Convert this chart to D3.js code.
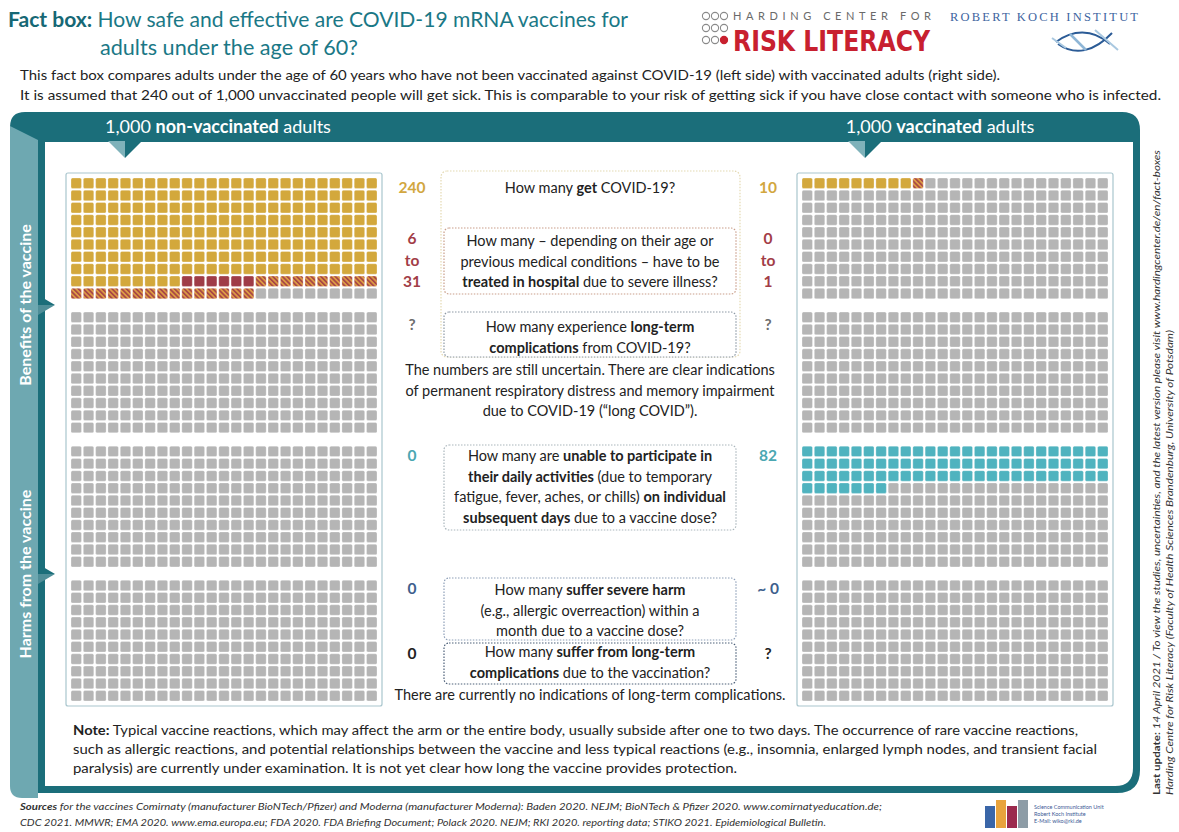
<!DOCTYPE html>
<html>
<head>
<meta charset="utf-8">
<script src="https://cdn.jsdelivr.net/npm/d3@7"></script>
<style>
body { margin: 0; background: #fff; }
text { font-family: Lato, "Open Sans", sans-serif; }
</style>
</head>
<body>
<svg width="1179" height="832"></svg>
<script>
// ---- data ----
var groups = ["non-vaccinated", "vaccinated"];
var gotCovid = [240, 10];
var hospitalMin = [6, 0];
var hospitalMax = [31, 1];
var longTerm = [0, 0];        // unknown, drawn as grey
var dailyLimited = [0, 82];
var severeHarm = [0, 0];
var blocks = ["get COVID-19", "long-term complications", "daily activities", "severe harm"];

var leftValues = ["240", ["6", "to", "31"], "?", "0", "0", "0"];
var rightValues = ["10", ["0", "to", "1"], "?", "82", "~ 0", "?"];

var questions = [
    ["How many **get** COVID-19?"],
    ["How many – depending on their age or", "previous medical conditions – have to be", "**treated in hospital** due to severe illness?"],
    ["How many experience **long-term**", "**complications** from COVID-19?"],
    ["How many are **unable to participate in**", "**their daily activities** (due to temporary", "fatigue, fever, aches, or chills) **on individual**", "**subsequent days** due to a vaccine dose?"],
    ["How many **suffer severe harm**", "(e.g., allergic overreaction) within a", "month due to a vaccine dose?"],
    ["How many **suffer from long-term**", "**complications** due to the vaccination?"]
];
var longCovidNote = ["The numbers are still uncertain. There are clear indications",
    "of permanent respiratory distress and memory impairment",
    "due to COVID-19 (“long COVID”)."];
var noComplications = "There are currently no indications of long-term complications.";

// ---- layout / styles ----
var teal = "#1b6e7a", lightTeal = "#6ea8b1";
var colors = { sick: "#d3a83c", hosp: "#9f3c47", hatch: "url(#hatch)", react: "#4fb3bf", none: "#b5b5b5" };
var valueColors = ["#d2a73f", "#a23d47", "#6d6d6d", "#4ba7b2", "#3e5f8d", "#222"];
var valueY = [193, 244, 330, 461, 594, 659];
var qBaseline = [193, 246, 332, 461, 595, 657];
var qBoxes = [null, [228, 294, "#c99e8a"], [312, 357, "#8d99a5"], [445, 530, "#aab6bc"], [578, 640, "#8e9fb8"], [643, 684, "#4d6079"]];

var svg = d3.select("svg");
var defs = svg.append("defs");
var pat = defs.append("pattern").attr("id", "hatch").attr("width", 3.4).attr("height", 3.4)
    .attr("patternUnits", "userSpaceOnUse").attr("patternTransform", "rotate(-45)");
pat.append("rect").attr("width", 3.4).attr("height", 3.4).attr("fill", "#dc9a44");
pat.append("line").attr("x1", 0.8).attr("x2", 0.8).attr("y1", 0).attr("y2", 3.4)
    .attr("stroke", "#a23c46").attr("stroke-width", 1.5);

// rich text with **bold** parts
function rich(sel, x, y, str, size, anchor, fill) {
    var t = sel.append("text").attr("x", x).attr("y", y).attr("font-size", size)
        .attr("text-anchor", anchor || "start").attr("fill", fill || "#222");
    str.split("**").forEach(function (s, i) {
        if (s.length) t.append("tspan").attr("font-weight", i % 2 ? 700 : 400).text(s);
    });
    return t;
}

// ---- title ----
var title = svg.append("text").attr("x", 8).attr("y", 27).attr("font-size", 21).attr("fill", "#1a7886")
    .attr("textLength", 620).attr("lengthAdjust", "spacingAndGlyphs");
title.append("tspan").attr("font-weight", 700).attr("fill", "#166875").text("Fact box: ");
title.append("tspan").text("How safe and effective are COVID-19 mRNA vaccines for");
svg.append("text").attr("x", 100).attr("y", 55).attr("font-size", 21).attr("fill", "#1a7886")
    .attr("textLength", 258).attr("lengthAdjust", "spacingAndGlyphs").text("adults under the age of 60?");

svg.append("text").attr("x", 20).attr("y", 80).attr("font-size", 13.5).attr("fill", "#222")
    .attr("textLength", 980).attr("lengthAdjust", "spacingAndGlyphs")
    .text("This fact box compares adults under the age of 60 years who have not been vaccinated against COVID-19 (left side) with vaccinated adults (right side).");
svg.append("text").attr("x", 20).attr("y", 100).attr("font-size", 13.5).attr("fill", "#222")
    .attr("textLength", 1141).attr("lengthAdjust", "spacingAndGlyphs")
    .text("It is assumed that 240 out of 1,000 unvaccinated people will get sick. This is comparable to your risk of getting sick if you have close contact with someone who is infected.");

// ---- logos ----
var logo = svg.append("g");
d3.range(9).forEach(function (i) {
    var cx = 706 + (i % 3) * 9, cy = 16 + Math.floor(i / 3) * 12;
    logo.append("circle").attr("cx", cx).attr("cy", cy).attr("r", 3.6)
        .attr("fill", i === 8 ? "#c8202f" : "none").attr("stroke", i === 8 ? "#c8202f" : "#8a8a8a").attr("stroke-width", 1.1);
});
logo.append("text").attr("x", 733).attr("y", 20).attr("font-size", 11).attr("fill", "#6a6a6a")
    .attr("textLength", 198).attr("lengthAdjust", "spacing").text("HARDING CENTER FOR");
logo.append("text").attr("x", 733).attr("y", 51).attr("font-size", 28).attr("font-weight", 700)
    .attr("fill", "#c8202f").style("font-family", "'Liberation Sans Narrow', 'DejaVu Sans Condensed', sans-serif")
    .attr("textLength", 197).attr("lengthAdjust", "spacingAndGlyphs").text("RISK LITERACY");
logo.append("text").attr("x", 950).attr("y", 21).attr("font-size", 12.5).attr("fill", "#3d64a0")
    .style("font-family", "'Liberation Serif', serif")
    .attr("textLength", 188).attr("lengthAdjust", "spacing").text("ROBERT KOCH INSTITUT");
[["M1056,42 C1072,30 1092,28 1110,44", "#2b5b96", 2], ["M1058,44 C1075,56 1094,52 1112,33", "#2b5b96", 2],
 ["M1070,34 L1086,50", "#8fb6d6", 2.5], ["M1095,30 L1118,50", "#a9c8e0", 2], ["M1052,38 L1066,48", "#a9c8e0", 2]]
    .forEach(function (p) {
        logo.append("path").attr("d", p[0]).attr("fill", "none").attr("stroke", p[1]).attr("stroke-width", p[2]);
    });

// ---- frame ----
svg.append("path").attr("fill", teal)
    .attr("d", "M10,127 Q10,112 25,112 L1122,112 Q1140,112 1140,130 L1140,770 Q1140,793 1117,793 L38,793 L38,142 L10,142 Z");
svg.append("path").attr("fill", "#fff")
    .attr("d", "M45,142 L1133,142 L1133,768 Q1133,786 1115,786 L45,786 Z");
svg.append("path").attr("fill", lightTeal)
    .attr("d", "M10,126 L38,140 L38,798 L22,798 Q10,798 10,786 Z");

// header pointers
[125, 865].forEach(function (cx) {
    svg.append("path").attr("fill", "#7fb2ba").attr("d", "M" + (cx - 17) + ",141 L" + cx + ",141 L" + cx + ",158 Z");
    svg.append("path").attr("fill", teal).attr("d", "M" + cx + ",141 L" + (cx + 17) + ",141 L" + cx + ",158 Z");
});
rich(svg, 218, 133, "1,000 **non-vaccinated** adults", 18, "middle", "#fff");
rich(svg, 940, 133, "1,000 **vaccinated** adults", 18, "middle", "#fff");

// side pointers + labels
[[305, "Benefits of the vaccine"], [574, "Harms from the vaccine"]].forEach(function (d) {
    svg.append("path").attr("fill", teal).attr("d", "M38," + (d[0] - 10) + " L55," + d[0] + " L38," + d[0] + " Z");
    svg.append("path").attr("fill", "#4f8e98").attr("d", "M38," + d[0] + " L55," + d[0] + " L38," + (d[0] + 10) + " Z");
    svg.append("text").attr("transform", "translate(31," + d[0] + ") rotate(-90)")
        .attr("text-anchor", "middle").attr("font-size", 16).attr("font-weight", 700)
        .attr("fill", "#fff").text(d[1]);
});

// ---- icon grids ----
var side = d3.scaleOrdinal().domain(groups).range([71, 802]);
var col = d3.scaleBand().domain(d3.range(25)).range([0, 306]).paddingInner(0.15);
var block = d3.scaleBand().domain(d3.range(blocks.length)).range([178, 701]).paddingInner(0.1);
var row = d3.scaleBand().domain(d3.range(10)).range([0, block.bandwidth()]).paddingInner(0.15);

function blockCells(g, b) {
    var segs;
    if (b === 0) segs = [["sick", gotCovid[g] - hospitalMax[g]], ["hosp", hospitalMin[g]], ["hatch", hospitalMax[g] - hospitalMin[g]]];
    else if (b === 1) segs = [["react", longTerm[g]]];
    else if (b === 2) segs = [["react", dailyLimited[g]]];
    else segs = [["react", severeHarm[g]]];
    var out = [];
    segs.forEach(function (s) { d3.range(s[1]).forEach(function () { out.push(s[0]); }); });
    while (out.length < 250) out.push("none");
    return out;
}

var cells = [];
groups.forEach(function (name, g) {
    blocks.forEach(function (bn, b) {
        blockCells(g, b).forEach(function (c, i) {
            cells.push({ group: name, block: b, idx: i, cat: c });
        });
    });
});

groups.forEach(function (name) {
    svg.append("rect").attr("x", side(name) - 5).attr("y", 173).attr("width", 316).attr("height", 533)
        .attr("fill", "#fff").attr("stroke", "#a9c6ce").attr("stroke-width", 1.2).attr("rx", 2);
});

svg.append("g").selectAll("rect").data(cells).enter().append("rect")
    .attr("x", function (d) { return side(d.group) + col(d.idx % 25); })
    .attr("y", function (d) { return block(d.block) + row(Math.floor(d.idx / 25)); })
    .attr("width", col.bandwidth())
    .attr("height", row.bandwidth())
    .attr("rx", 1.5)
    .attr("fill", function (d) { return colors[d.cat]; })
    .attr("stroke", "rgba(255,255,255,0.35)")
    .attr("stroke-width", 0.8);

// ---- centre column ----
var mid = 590;
svg.append("rect").attr("x", 441).attr("y", 171).attr("width", 299).attr("height", 186).attr("rx", 6)
    .attr("fill", "none").attr("stroke", "#e4d9b2").attr("stroke-width", 1.2).attr("stroke-dasharray", "1.5,1.5");
qBoxes.forEach(function (b) {
    if (!b) return;
    svg.append("rect").attr("x", 444).attr("y", b[0]).attr("width", 292).attr("height", b[1] - b[0]).attr("rx", 5)
        .attr("fill", "#fff").attr("stroke", b[2]).attr("stroke-width", 1.2).attr("stroke-dasharray", "1.5,1.5");
});
questions.forEach(function (lines, q) {
    lines.forEach(function (l, j) {
        rich(svg, mid, qBaseline[q] + j * 20.5, l, 14.5, "middle", "#222");
    });
});
longCovidNote.forEach(function (l, j) {
    svg.append("text").attr("x", mid).attr("y", 375 + j * 20.5).attr("text-anchor", "middle")
        .attr("font-size", 14.5).attr("fill", "#222").text(l);
});
svg.append("text").attr("x", mid).attr("y", 700).attr("text-anchor", "middle")
    .attr("font-size", 14.5).attr("fill", "#222").text(noComplications);

function values(arr, x) {
    arr.forEach(function (v, i) {
        var lines = Array.isArray(v) ? v : [v];
        lines.forEach(function (l, j) {
            svg.append("text").attr("x", x).attr("y", valueY[i] + j * 21.5).attr("text-anchor", "middle")
                .attr("font-size", 15.5).attr("font-weight", 700).attr("fill", valueColors[i]).text(l);
        });
    });
}
values(leftValues, 412);
values(rightValues, 768);

// ---- note ----
var note = ["**Note:** Typical vaccine reactions, which may affect the arm or the entire body, usually subside after one to two days. The occurrence of rare vaccine reactions,",
    "such as allergic reactions, and potential relationships between the vaccine and less typical reactions (e.g., insomnia, enlarged lymph nodes, and transient facial",
    "paralysis) are currently under examination. It is not yet clear how long the vaccine provides protection."];
var noteLen = [1005, 1024, 664];
note.forEach(function (l, j) {
    rich(svg, 73, 735 + j * 19, l, 13.5, "start", "#222")
        .attr("textLength", noteLen[j]).attr("lengthAdjust", "spacingAndGlyphs");
});

// ---- sources ----
var src = ["**Sources** for the vaccines Comirnaty (manufacturer BioNTech/Pfizer) and Moderna (manufacturer Moderna): Baden 2020. NEJM; BioNTech & Pfizer 2020. www.comirnatyeducation.de;",
    "CDC 2021. MMWR; EMA 2020. www.ema.europa.eu; FDA 2020. FDA Briefing Document; Polack 2020. NEJM; RKI 2020. reporting data; STIKO 2021. Epidemiological Bulletin."];
var srcLen = [862, 806];
src.forEach(function (l, j) {
    rich(svg, 20, 810 + j * 16, l, 9.5, "start", "#333").attr("font-style", "italic")
        .attr("textLength", srcLen[j]).attr("lengthAdjust", "spacingAndGlyphs");
});

// ---- side credit ----
var cred1 = svg.append("text").attr("transform", "translate(1160,795) rotate(-90)").attr("font-size", 10)
    .attr("font-style", "italic").attr("fill", "#333").attr("textLength", 645).attr("lengthAdjust", "spacingAndGlyphs");
cred1.append("tspan").attr("font-weight", 700).attr("font-style", "normal").text("Last update: ");
cred1.append("tspan").text("14 April 2021 / To view the studies, uncertainties, and the latest version please visit www.hardingcenter.de/en/fact-boxes");
svg.append("text").attr("transform", "translate(1173,795) rotate(-90)").attr("font-size", 10)
    .attr("font-style", "italic").attr("fill", "#333").attr("textLength", 465).attr("lengthAdjust", "spacingAndGlyphs")
    .text("Harding Centre for Risk Literacy (Faculty of Health Sciences Brandenburg, University of Potsdam)");

// ---- bottom logo ----
[[985, 806, "#3a66a8"], [996, 800, "#e8a33d"], [1007, 806, "#9b2a4e"], [1018, 800, "#8d9ca6"]].forEach(function (b) {
    svg.append("rect").attr("x", b[0]).attr("y", b[1]).attr("width", 10).attr("height", 828 - b[1]).attr("fill", b[2]);
});
["Science Communication Unit", "Robert Koch Institute", "E-Mail: wiko@rki.de"].forEach(function (l, j) {
    svg.append("text").attr("x", 1034).attr("y", 809 + j * 7).attr("font-size", 5.5).attr("fill", "#3d5a96").text(l);
});
</script>
</body>
</html>
